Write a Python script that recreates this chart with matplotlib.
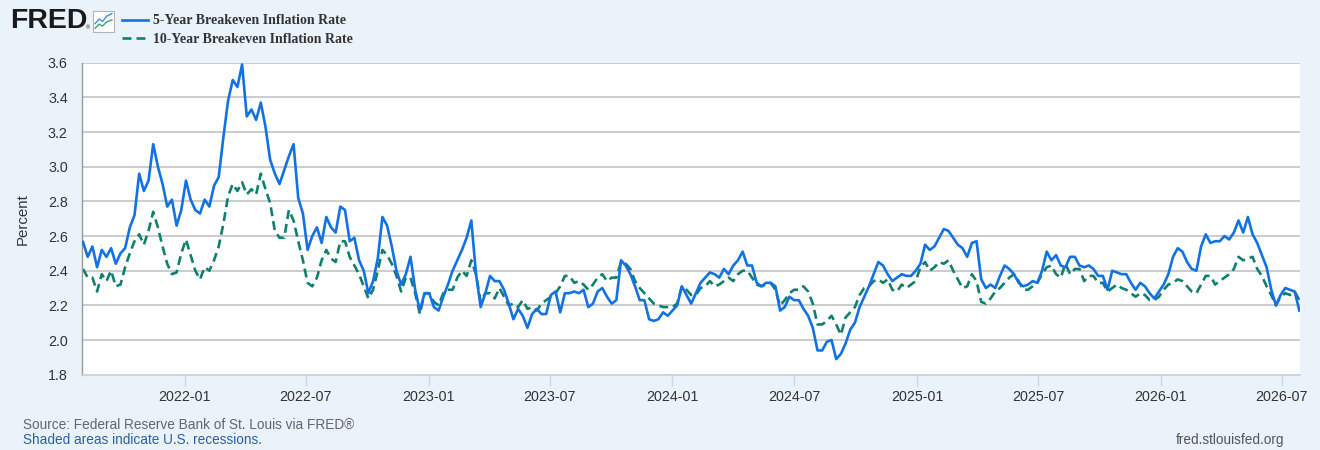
import matplotlib
matplotlib.use("Agg")
import matplotlib.pyplot as plt
import matplotlib.dates as mdates
import pandas as pd
import numpy as np

# ---------------- data (weekly readings) ----------------
start_date = "2021-08-02"
series_5y_name = "5-Year Breakeven Inflation Rate"
series_10y_name = "10-Year Breakeven Inflation Rate"

t5 = [
    2.565, 2.48, 2.54, 2.42, 2.52, 2.48, 2.53, 2.44, 2.50, 2.53,
    2.65, 2.72, 2.96, 2.86, 2.92, 3.13, 3.00, 2.90, 2.77, 2.81,
    2.66, 2.75, 2.92, 2.81, 2.75, 2.73, 2.81, 2.77, 2.89, 2.94,
    3.17, 3.38, 3.50, 3.46, 3.59, 3.29, 3.33, 3.27, 3.37, 3.23,
    3.04, 2.96, 2.90, 2.98,
    3.06, 3.13, 2.82, 2.73, 2.52, 2.60,
    2.65, 2.56, 2.71, 2.65, 2.62, 2.77, 2.75, 2.57, 2.59, 2.46,
    2.40, 2.27, 2.34, 2.47, 2.71, 2.66, 2.54, 2.40, 2.32, 2.38,
    2.48, 2.29, 2.17, 2.27, 2.27, 2.19, 2.17, 2.25, 2.32, 2.40,
    2.46, 2.52, 2.59, 2.69, 2.38, 2.19, 2.27,
    2.37,
    2.34, 2.34, 2.29, 2.21, 2.12, 2.18, 2.14, 2.07, 2.15, 2.18, 2.15, 2.15,
    2.26, 2.28, 2.16, 2.27, 2.27, 2.28, 2.27, 2.29, 2.19, 2.21,
    2.28, 2.30, 2.25, 2.21, 2.23, 2.46, 2.43, 2.38, 2.31, 2.23,
    2.23, 2.12, 2.11, 2.12, 2.16, 2.14, 2.17, 2.20, 2.31, 2.26, 2.21,
    2.27,
    2.33, 2.36, 2.39, 2.38, 2.36, 2.41, 2.38, 2.43,
    2.46, 2.51, 2.43, 2.43, 2.33, 2.31, 2.33, 2.33, 2.31, 2.17,
    2.19, 2.25, 2.23, 2.23, 2.18, 2.14, 2.07, 1.94, 1.94, 1.99,
    2.00, 1.89, 1.92, 1.98, 2.06, 2.10, 2.19, 2.25, 2.31, 2.38,
    2.45, 2.43, 2.38, 2.34, 2.36,
    2.38,
    2.37, 2.37, 2.40, 2.44,
    2.55, 2.52, 2.54, 2.59, 2.64, 2.63, 2.59, 2.55, 2.53, 2.48,
    2.56, 2.57, 2.35, 2.30, 2.32, 2.30, 2.37, 2.43, 2.41, 2.38,
    2.33, 2.31, 2.32, 2.34, 2.33, 2.40, 2.51, 2.46, 2.49, 2.43,
    2.42, 2.48, 2.48, 2.43, 2.42, 2.43, 2.41, 2.37,
    2.37,
    2.29, 2.40, 2.39, 2.38, 2.38, 2.33, 2.29, 2.33, 2.31, 2.27, 2.24,
    2.28, 2.32, 2.38, 2.48, 2.53, 2.51, 2.45, 2.41, 2.40, 2.54,
    2.61, 2.56, 2.57, 2.57, 2.60, 2.58, 2.62, 2.69, 2.62, 2.71,
    2.61, 2.56, 2.49, 2.42, 2.29, 2.20, 2.26, 2.30, 2.29, 2.28, 2.17,
]

t10 = [
    2.41, 2.36, 2.36, 2.28, 2.38, 2.34, 2.40, 2.31, 2.32, 2.42,
    2.50, 2.57, 2.61, 2.55, 2.63, 2.74, 2.65, 2.54, 2.44, 2.38,
    2.39, 2.50, 2.58, 2.49, 2.40, 2.35, 2.42, 2.40, 2.46, 2.54,
    2.67, 2.83, 2.90, 2.86, 2.91, 2.84, 2.87, 2.84, 2.96, 2.87,
    2.79, 2.63, 2.59, 2.59,
    2.75, 2.69, 2.57, 2.46, 2.33, 2.31,
    2.36, 2.46, 2.52, 2.47, 2.45, 2.57, 2.57, 2.48, 2.43, 2.38,
    2.31, 2.24, 2.29, 2.40, 2.52, 2.49, 2.44, 2.37, 2.28, 2.36,
    2.36, 2.27, 2.15, 2.27, 2.27, 2.22, 2.20, 2.27, 2.29, 2.29,
    2.36, 2.40, 2.37, 2.46, 2.38, 2.22, 2.27,
    2.27,
    2.24, 2.30, 2.25, 2.20, 2.21, 2.19, 2.23, 2.18, 2.19, 2.17, 2.21, 2.23,
    2.25, 2.27, 2.31, 2.37, 2.37, 2.33, 2.34, 2.32, 2.29, 2.32,
    2.36, 2.38, 2.34, 2.36, 2.36, 2.45, 2.44, 2.41, 2.34, 2.30,
    2.27, 2.24, 2.21, 2.20, 2.19, 2.19, 2.19, 2.21, 2.31, 2.29, 2.26,
    2.26,
    2.30, 2.31, 2.34, 2.31, 2.32, 2.34, 2.36, 2.34,
    2.38, 2.40, 2.40, 2.36, 2.32, 2.31, 2.32, 2.33, 2.29, 2.20,
    2.23, 2.27, 2.29, 2.29, 2.31, 2.28, 2.21, 2.09, 2.09, 2.11,
    2.14, 2.09, 2.03, 2.13, 2.16, 2.19, 2.26, 2.30, 2.31, 2.34,
    2.35, 2.33, 2.35, 2.29, 2.28,
    2.32,
    2.30, 2.32, 2.34, 2.42,
    2.45, 2.40, 2.42, 2.45, 2.44, 2.46, 2.40, 2.35, 2.30, 2.31,
    2.38, 2.34, 2.22, 2.21, 2.24, 2.28, 2.30, 2.33, 2.36, 2.38,
    2.34, 2.29, 2.29, 2.31, 2.33, 2.38, 2.42, 2.43, 2.38, 2.36,
    2.44, 2.38, 2.41, 2.41, 2.34, 2.37, 2.37, 2.33,
    2.33,
    2.28, 2.30, 2.32, 2.30, 2.29, 2.27, 2.25, 2.27, 2.26, 2.23, 2.23,
    2.25, 2.29, 2.32, 2.33, 2.35, 2.34, 2.31, 2.28, 2.27, 2.32,
    2.37, 2.37, 2.32, 2.34, 2.36, 2.38, 2.41, 2.48, 2.46, 2.47,
    2.48, 2.41, 2.37, 2.31, 2.26, 2.20, 2.25, 2.27, 2.26, 2.28, 2.23,
]

dates = pd.date_range(start_date, periods=len(t5), freq="7D")

y_ticks = [1.8, 2.0, 2.2, 2.4, 2.6, 2.8, 3.0, 3.2, 3.4, 3.6]
x_tick_labels = ["2022-01", "2022-07", "2023-01", "2023-07", "2024-01",
                 "2024-07", "2025-01", "2025-07", "2026-01", "2026-07"]

# ---------------- style ----------------
BG = "#eaf2fa"
BLUE = "#1272e4"
GREEN = "#10806e"
SANS = ["Liberation Sans", "DejaVu Sans"]
SERIF = ["Liberation Serif", "DejaVu Serif"]

W, H = 1320, 450
fig = plt.figure(figsize=(W / 100, H / 100), dpi=100, facecolor=BG)

left, right, top, bottom = 81.7, 1300, 62.7, 374.7
ax = fig.add_axes([left / W, 1 - bottom / H, (right - left) / W, (bottom - top) / H])
ax.set_facecolor("white")

ax.plot(dates, t5, color=BLUE, lw=1.9, solid_joinstyle="round", zorder=3,
        label=series_5y_name)
ax.plot(dates, t10, color=GREEN, lw=1.9, dashes=(3.4, 1.9), zorder=2,
        label=series_10y_name)

ax.set_ylim(1.8, 3.6)
ax.set_yticks(y_ticks)
ax.set_yticklabels([f"{v:.1f}" for v in y_ticks])
ax.set_xlim(pd.Timestamp("2021-07-31"), pd.Timestamp("2026-07-28"))
ax.set_xticks([pd.Timestamp(s + "-01") for s in x_tick_labels])
ax.set_xticklabels(x_tick_labels)

ax.grid(axis="y", color="#c3c3c3", lw=1.2, zorder=0)
ax.grid(axis="x", visible=False)
ax.set_axisbelow(True)

for s in ["top", "right"]:
    ax.spines[s].set_visible(False)
ax.spines["left"].set_color("#9a9a9a")
ax.spines["left"].set_linewidth(1.0)
ax.spines["bottom"].set_color("#c8d2de")
ax.spines["bottom"].set_linewidth(1.2)

ax.tick_params(axis="y", length=0, pad=10, labelsize=10.3, labelcolor="#333333")
ax.tick_params(axis="x", length=8, width=1, color="#c9d7e8", pad=3,
               labelsize=10.3, labelcolor="#333333")
for lab in ax.get_xticklabels() + ax.get_yticklabels():
    lab.set_fontfamily(SANS)

ax.set_ylabel("Percent", fontsize=10.8, color="#333333", family=SANS, labelpad=13)

# ---------------- header ----------------
fig.text(10 / W, 1 - 21.5 / H, "FRED", fontsize=20.5, fontweight="heavy", family=SANS,
         color="#1a1a1a", va="center", ha="left")
fig.text(86 / W, 1 - 28 / H, "®", fontsize=4, family=SANS, color="#1a1a1a",
         va="center", ha="left")
logo_ax = fig.add_axes([93 / W, 1 - 32 / H, 21 / W, 21 / H], zorder=5)
logo_ax.set_facecolor("white")
logo_ax.set_xticks([])
logo_ax.set_yticks([])
for sp in logo_ax.spines.values():
    sp.set_color("#b5b5b5")
    sp.set_linewidth(0.8)
logo_ax.plot([0.1, 0.3, 0.45, 0.65, 0.9], [0.4, 0.62, 0.5, 0.75, 0.88], color="#3f8fe0", lw=1)
logo_ax.plot([0.1, 0.3, 0.45, 0.65, 0.9], [0.18, 0.38, 0.28, 0.48, 0.58], color="#3aa07a", lw=1)
logo_ax.set_xlim(0, 1)
logo_ax.set_ylim(0, 1)

leg = ax.legend(loc="upper left", bbox_to_anchor=(122 / W, 1 - 14.5 / H),
                bbox_transform=fig.transFigure, frameon=False, handlelength=1.85,
                handletextpad=0.4, labelspacing=0.38, borderaxespad=0, borderpad=0,
                prop={"family": SERIF, "weight": "bold", "size": 10})
for t in leg.get_texts():
    t.set_color("#333333")

# ---------------- footer ----------------
fig.text(23 / W, 1 - 425 / H, "Source: Federal Reserve Bank of St. Louis via FRED®",
         fontsize=9.8, family=SANS, color="#666666", va="center", ha="left")
fig.text(23 / W, 1 - 440 / H, "Shaded areas indicate U.S. recessions.",
         fontsize=9.8, family=SANS, color="#2d5fa6", va="center", ha="left")
fig.text(1284 / W, 1 - 440 / H, "fred.stlouisfed.org",
         fontsize=9.8, family=SANS, color="#555555", va="center", ha="right")

fig.savefig("out.png", dpi=100, facecolor=BG)
